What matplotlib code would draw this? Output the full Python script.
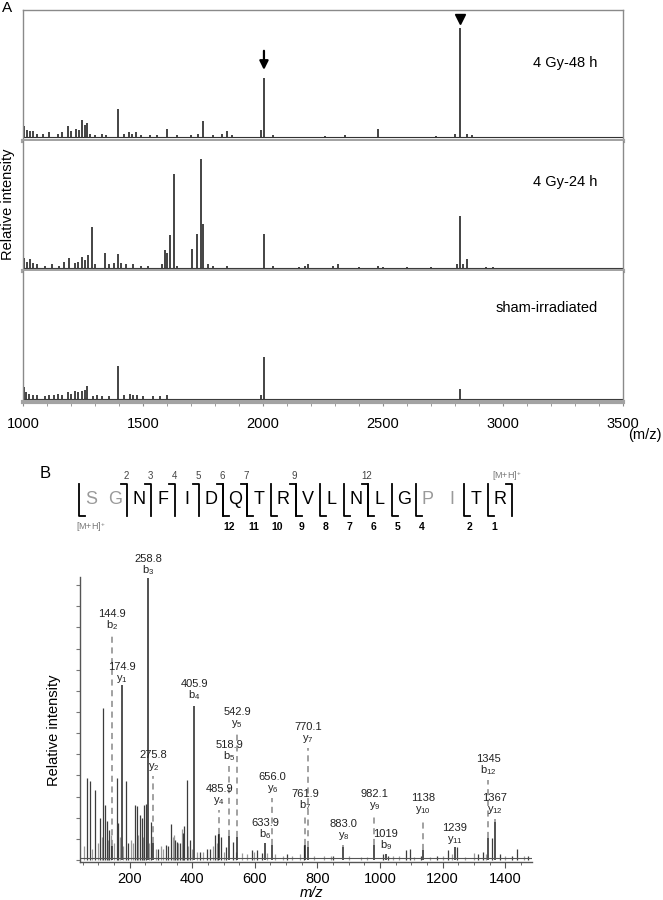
import matplotlib
matplotlib.use('Agg')
import matplotlib.pyplot as plt
import matplotlib.ticker as ticker

plt.rcParams['font.family'] = ['Liberation Sans', 'DejaVu Sans']
plt.rcParams['mathtext.fontset'] = 'custom'
plt.rcParams['mathtext.rm'] = 'Liberation Sans'
plt.rcParams['mathtext.it'] = 'Liberation Sans:italic'
plt.rcParams['mathtext.bf'] = 'Liberation Sans:bold'

# ---- panel A: MALDI spectra (m/z, relative height) ----
mz_48h = [1006, 1015, 1029, 1042, 1060, 1085, 1110, 1146, 1161, 1186, 1200, 1221,
          1232, 1244, 1257, 1265, 1280, 1300, 1330, 1345, 1394, 1420, 1440, 1455,
          1470, 1490, 1530, 1560, 1600, 1640, 1700, 1730, 1748, 1790, 1830, 1851,
          1870, 1991, 2004, 2040, 2260, 2340, 2478, 2720, 2800, 2821, 2850, 2870]
h_48h = [0.09, 0.06, 0.05, 0.05, 0.03, 0.03, 0.04, 0.03, 0.04, 0.09, 0.05, 0.07,
         0.06, 0.14, 0.10, 0.11, 0.03, 0.02, 0.03, 0.02, 0.22, 0.03, 0.04, 0.03,
         0.04, 0.02, 0.02, 0.02, 0.07, 0.02, 0.02, 0.03, 0.13, 0.02, 0.03, 0.05,
         0.02, 0.06, 0.47, 0.02, 0.01, 0.02, 0.07, 0.01, 0.03, 0.86, 0.03, 0.02]

mz_24h = [1006, 1015, 1029, 1042, 1060, 1090, 1120, 1150, 1170, 1191, 1215, 1230,
          1246, 1260, 1269, 1287, 1300, 1342, 1360, 1380, 1394, 1410, 1430, 1460,
          1490, 1520, 1580, 1590, 1600, 1612, 1628, 1640, 1704, 1723, 1741, 1750,
          1770, 1790, 1851, 2004, 2041, 2150, 2175, 2187, 2290, 2313, 2400, 2478,
          2500, 2600, 2700, 2810, 2821, 2835, 2850, 2930, 2960]
h_24h = [0.08, 0.05, 0.07, 0.04, 0.03, 0.02, 0.03, 0.02, 0.05, 0.08, 0.04, 0.05,
         0.09, 0.06, 0.10, 0.32, 0.03, 0.12, 0.03, 0.04, 0.11, 0.04, 0.03, 0.03,
         0.02, 0.02, 0.03, 0.14, 0.12, 0.26, 0.74, 0.02, 0.15, 0.27, 0.86, 0.35,
         0.03, 0.02, 0.02, 0.27, 0.02, 0.01, 0.02, 0.03, 0.02, 0.03, 0.01, 0.02,
         0.01, 0.01, 0.01, 0.03, 0.41, 0.03, 0.07, 0.01, 0.01]

mz_sham = [1006, 1012, 1025, 1040, 1060, 1090, 1110, 1130, 1146, 1161, 1186, 1200,
           1215, 1230, 1246, 1257, 1265, 1290, 1307, 1330, 1360, 1394, 1420, 1446,
           1460, 1475, 1500, 1540, 1570, 1600, 1991, 2004, 2821]
h_sham = [0.09, 0.05, 0.04, 0.03, 0.03, 0.02, 0.03, 0.03, 0.04, 0.03, 0.05, 0.04,
          0.06, 0.05, 0.06, 0.07, 0.10, 0.02, 0.03, 0.02, 0.02, 0.26, 0.03, 0.04,
          0.03, 0.03, 0.02, 0.02, 0.02, 0.03, 0.03, 0.33, 0.08]

panel_names = ['4 Gy-48 h', '4 Gy-24 h', 'sham-irradiated']
arrow_mz = 2004      # arrow marks this peak
triangle_mz = 2821   # triangle marks this peak
a_ticks = [1000, 1500, 2000, 2500, 3000, 3500]

# ---- panel B: MS/MS spectrum ----
mz_ms = [65, 73, 89, 105, 116, 121, 127, 134, 159, 164, 188, 196, 217, 223, 233,
         239, 247, 251, 267, 292, 315, 322, 331, 345, 350, 361, 370, 375, 382, 393,
         425, 446, 457, 473, 483, 491, 508, 531, 590, 606, 622, 702, 757, 851, 1011,
         1027, 1083, 1096, 1131, 1181, 1216, 1247, 1314, 1330, 1357, 1383, 1421,
         1439, 1474]
int_ms = [29, 28, 25, 15, 54, 19.5, 14, 10.6, 29, 13, 28, 6, 19.5, 19, 16,
          15, 19.5, 20, 13.6, 4, 5.3, 5, 12.8, 7, 6.5, 6, 9.5, 12, 28.4, 7,
          3, 4, 4, 9, 9.2, 8.3, 4.7, 6.5, 3.5, 3.5, 2.5, 2, 5.3, 1.5, 2,
          1.5, 3.5, 4, 1.5, 1.5, 3.5, 4.7, 2, 3, 7.7, 2, 1.5,
          3.8, 1.5]
# lighter (grey) peaks of the overlaid trace
mz_ms_grey = [55, 80, 98, 112, 130, 140, 150, 170, 180, 205, 210, 228, 243, 262,
              283, 300, 308, 338, 342, 355, 366, 388, 398, 415, 435, 465, 478, 500,
              540, 560, 575, 598, 640, 665, 690, 720, 745, 790, 820, 845, 900, 940,
              960, 1040, 1060, 1110, 1160, 1200, 1230, 1270, 1300, 1340, 1400, 1460]
int_ms_grey = [5, 4, 6, 8, 7, 9, 6, 8, 5, 7, 6, 9, 8, 6,
               4, 5, 4, 8, 9, 6, 11, 5, 4, 3, 3, 5, 6, 3,
               3, 2.5, 2, 3, 2.5, 2, 1.5, 1.5, 2, 1.5, 1.5, 1.5, 1.5, 1.2,
               1.2, 1.5, 1.5, 1.2, 1.2, 1.5, 2, 1.2, 2.5, 2, 1.5, 1.5]

ion_mz = [144.9, 174.9, 258.8, 275.8, 405.9, 485.9, 518.9, 542.9, 633.9, 656.0,
          761.9, 770.1, 883.0, 982.1, 1019, 1138, 1239, 1345, 1367]
ion_text = ['144.9', '174.9', '258.8', '275.8', '405.9', '485.9', '518.9', '542.9',
            '633.9', '656.0', '761.9', '770.1', '883.0', '982.1', '1019', '1138',
            '1239', '1345', '1367']
ion_name = [('b', 2), ('y', 1), ('b', 3), ('y', 2), ('b', 4), ('y', 4), ('b', 5),
            ('y', 5), ('b', 6), ('y', 6), ('b', 7), ('y', 7), ('y', 8), ('y', 9),
            ('b', 9), ('y', 10), ('y', 11), ('b', 12), ('y', 12)]
ion_int = [5, 62, 100, 6, 54.6, 9.2, 8.6, 8.3, 6, 5.3, 5.3, 4.7, 4.7, 5.3, 2,
           3.5, 4.7, 7.7, 13.6]
# height of the bottom of each label (layout)
ion_label_y = [80.9, 62, 100.4, 30.9, 56, 18.8, 34.4, 46, 6.7, 23, 17, 40.8, 6.4,
               17, 2.8, 15.6, 5, 29.4, 15.6]

sequence = list('SGNFIDQTRVLNLGPITR')
grey_residues = [0, 1, 14, 15]
b_ions = [2, 3, 4, 5, 6, 7, 9, 12]
y_ions = [1, 2, 4, 5, 6, 7, 8, 9, 10, 11, 12]

W, H = 663, 900
fig = plt.figure(figsize=(W / 100, H / 100), dpi=100)


def fx(px):
    return px / W


def fy(py):
    return 1 - py / H


# ---------- panel A ----------
a_left, a_right, a_top, a_bot = 23, 623, 10, 402
ph = (a_bot - a_top) / 3
frame_c = '#8a8a8a'
spectra = [(mz_48h, h_48h), (mz_24h, h_24h), (mz_sham, h_sham)]
name_y = [0.595, 0.68, 0.72]
axes_a = []
for i, (mz, h) in enumerate(spectra):
    top = a_top + i * ph
    ax = fig.add_axes([fx(a_left), fy(top + ph), (a_right - a_left) / W, ph / H])
    ax.vlines(mz, 0, h, color='#111111', lw=1.1)
    ax.axhline(0, color='#333333', lw=0.8)
    ax.set_xlim(1000, 3500)
    ax.set_ylim(-0.025, 1.0)
    for s in ['left', 'right', 'top']:
        ax.spines[s].set_color(frame_c)
        ax.spines[s].set_linewidth(1)
    if i > 0:
        ax.spines['top'].set_visible(False)
    ax.spines['bottom'].set_color('#a3a3a3')
    ax.spines['bottom'].set_linewidth(3)
    ax.set_yticks([])
    if i < 2:
        ax.set_xticks([])
    else:
        ax.xaxis.set_major_locator(ticker.FixedLocator(a_ticks))
        ax.xaxis.set_minor_locator(ticker.MultipleLocator(100))
        ax.tick_params(axis='x', which='both', direction='out', length=3,
                       color=frame_c, labelsize=10.5, pad=7.5)
    ax.text(0.958, name_y[i], panel_names[i], transform=ax.transAxes,
            ha='right', va='center', fontsize=10.5)
    axes_a.append(ax)

top_ax = axes_a[0]
arrow_h = h_48h[mz_48h.index(arrow_mz)]
top_ax.annotate('', xy=(arrow_mz, arrow_h + 0.06), xytext=(arrow_mz, arrow_h + 0.21),
                arrowprops=dict(arrowstyle='-|>', lw=1.6, color='k',
                                mutation_scale=13, shrinkA=0, shrinkB=0))
tri_h = h_48h[mz_48h.index(triangle_mz)]
top_ax.plot([triangle_mz], [tri_h + 0.07], marker='v', color='k', ms=6.5,
            clip_on=False)

fig.text(fx(7), fy(8), 'A', fontsize=11, ha='center', va='center')
fig.text(fx(8.5), fy(204), 'Relative intensity', rotation=90, fontsize=10.5,
         ha='center', va='center')
fig.text(fx(645), fy(435), '(m/z)', fontsize=10.5, ha='center', va='center')

# ---------- sequence ----------
ov = fig.add_axes([0, 0, 1, 1])
ov.set_xlim(0, W)
ov.set_ylim(H, 0)
ov.axis('off')

fig.text(fx(45), fy(473), 'B', fontsize=12, ha='center', va='center')

x0, step = 91, 24.06
y_let, y_hi, y_lo, hook = 500, 484, 516, 6
n = len(sequence)
for i, aa in enumerate(sequence):
    ov.text(x0 + i * step, y_let, aa, ha='center', va='center', fontsize=13,
            color='#9a9a9a' if i in grey_residues else 'black')

for k in b_ions:
    bx = x0 + (k - 0.5) * step
    ov.plot([bx - hook, bx, bx], [y_hi, y_hi, y_lo], color='k', lw=1.3)
    ov.text(bx - 1, 476, str(k), ha='center', va='center', fontsize=7, color='#444444')
for k in y_ions:
    bx = x0 + (n - k - 0.5) * step
    ov.plot([bx, bx, bx + hook], [y_hi, y_lo, y_lo], color='k', lw=1.3)
    ov.text(bx + 6, 527, str(k), ha='center', va='center', fontsize=7.5,
            fontweight='bold')
# whole peptide brackets
bx = x0 - 0.5 * step
ov.plot([bx, bx, bx + hook], [y_hi, y_lo, y_lo], color='k', lw=1.3)
ov.text(bx + 12, 527, '[M+H]$^{+}$', ha='center', va='center', fontsize=6.5,
        color='#777777')
bx = x0 + (n - 0.5) * step
ov.plot([bx - hook, bx, bx], [y_hi, y_hi, y_lo], color='k', lw=1.3)
ov.text(bx - 5, 476, '[M+H]$^{+}$', ha='center', va='center', fontsize=6.5,
        color='#777777')

# ---------- panel B ----------
b_left, b_right, b_top, b_bot = 80, 532, 577, 862
axb = fig.add_axes([fx(b_left), fy(b_bot), (b_right - b_left) / W, (b_bot - b_top) / H])
axb.set_xlim((b_left - 67) / 0.313, (b_right - 67) / 0.313)
axb.set_ylim(-0.7, 100.4)
axb.vlines(mz_ms_grey, 0, int_ms_grey, color='#9a9a9a', lw=0.9)
axb.vlines(mz_ms, 0, int_ms, color='#3c3c3c', lw=0.9)
axb.vlines(ion_mz, 0, ion_int, color='#222222', lw=1.1)
axb.axhline(0.6, color='#555555', lw=0.8)
for mz, txt, (ion, num), it, ly in zip(ion_mz, ion_text, ion_name, ion_int, ion_label_y):
    if ly - it > 1.5:
        axb.vlines(mz, it, ly - 1.0, colors='#888888', lw=1.1,
                   linestyles=(0, (4, 3)))
    axb.text(mz, ly, r'$\mathrm{%s}_{%d}$' % (ion, num), ha='center', va='bottom',
             fontsize=8, color='#222222')
    axb.annotate(txt, xy=(mz, ly), xytext=(0, 13), textcoords='offset pixels',
                 ha='center', va='bottom', fontsize=8, color='#222222')

for s in ['top', 'right']:
    axb.spines[s].set_visible(False)
for s in ['left', 'bottom']:
    axb.spines[s].set_color('#555555')
    axb.spines[s].set_linewidth(1)
axb.xaxis.set_major_locator(ticker.MultipleLocator(200))
axb.xaxis.set_minor_locator(ticker.MultipleLocator(50))
axb.yaxis.set_major_locator(ticker.MultipleLocator(7.5))
axb.tick_params(axis='x', which='major', length=4, color='#555555', labelsize=10.5, pad=3)
axb.tick_params(axis='x', which='minor', length=2.5, color='#555555')
axb.tick_params(axis='y', which='major', length=3, color='#777777', labelleft=False)
axb.set_xlabel('m/z', fontsize=10.5, style='italic')
axb.xaxis.set_label_coords((312 - b_left) / (b_right - b_left), -0.084)
axb.set_ylabel('Relative intensity', fontsize=10.5)
axb.yaxis.set_label_coords(-0.042, 0.463)

fig.savefig('out.png', dpi=100)
